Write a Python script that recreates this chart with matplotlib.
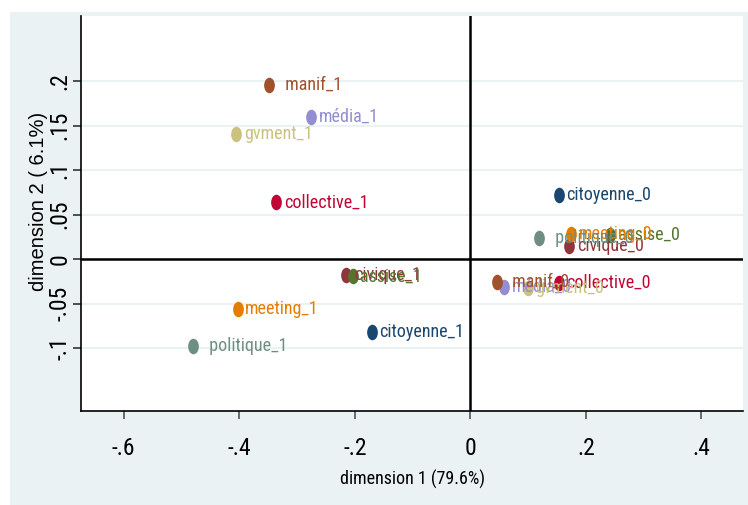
import numpy as np
import matplotlib.pyplot as plt
from matplotlib.path import Path
from matplotlib.patches import Rectangle

# coordinates from the correspondence analysis (dimension 1, dimension 2)
variables = ['citoyenne', 'civique', 'assise', 'meeting', 'politique',
             'collective', 'média', 'gvment', 'manif']
labels_0 = ['citoyenne_0', 'civique_0', 'assise_0', 'meeting_0', '  politique_0',
            'collective_0', 'média_0', 'gvment_0', '  manif_0']
labels_1 = ['citoyenne_1', 'civique_1', 'assise_1', 'meeting_1', '  politique_1',
            'collective_1', 'média_1', 'gvment_1', '  manif_1']
dim1_0 = [0.153, 0.171, 0.2416, 0.174, 0.119, 0.153, 0.058, 0.0996, 0.0459]
dim2_0 = [0.0726, 0.0145, 0.027, 0.028, 0.024, -0.0265, -0.031, -0.032, -0.0253]
dim1_1 = [-0.171, -0.2144, -0.2035, -0.403, -0.480, -0.3356, -0.276, -0.405, -0.348]
dim2_1 = [-0.0813, -0.0175, -0.0193, -0.0565, -0.097, 0.064, 0.160, 0.1413, 0.196]

xticks = [-0.6, -0.4, -0.2, 0, 0.2, 0.4]
xticklabels = ['-.6', '-.4', '-.2', '0', '.2', '.4']
yticks = [-0.1, -0.05, 0, 0.05, 0.1, 0.15, 0.2]
yticklabels = ['-.1', '-.05', '0', '.05', '.1', '.15', '.2']

# stata s2color palette
colors = ['#1A476F', '#90353B', '#55752F', '#E37E00', '#6E8E84',
          '#C10534', '#938DD2', '#CAC27E', '#A0522D']
bg = '#EAF2F3'
narrow = ['Roboto Condensed', 'Liberation Sans', 'DejaVu Sans']
regular = ['Liberation Sans', 'DejaVu Sans']

# slightly squashed circle, like the stretched stata export
circ = Path.unit_circle()
ellipse = Path(circ.vertices * [0.69, 1.0], circ.codes)

fig = plt.figure(figsize=(7.48, 5.05), dpi=100, facecolor='white')
fig.patches.append(Rectangle((10 / 748, 0), 1, 1 - 12 / 505, transform=fig.transFigure,
                             facecolor=bg, edgecolor='none', zorder=-10))
ax = fig.add_axes([81 / 748, 1 - 411 / 505, 662 / 748, 395 / 505])
ax.set_facecolor('white')

ax.set_xlim(-0.674, 0.472)
ax.set_ylim(-0.1706, 0.2734)

for yt in yticks:
    ax.axhline(yt, color=bg, lw=1.5, zorder=0)
ax.axhline(0, color='black', lw=1.8, zorder=1)
ax.axvline(0, color='black', lw=1.8, zorder=1)

for i, v in enumerate(variables):
    ax.plot([dim1_0[i], dim1_1[i]], [dim2_0[i], dim2_1[i]], linestyle='none',
            marker=ellipse, markersize=11.2, color=colors[i], mec='none', zorder=3)
    for xx, yy, lab in [(dim1_0[i], dim2_0[i], labels_0[i]), (dim1_1[i], dim2_1[i], labels_1[i])]:
        ax.annotate(lab, (xx, yy), xytext=(5.5, 0), textcoords='offset points',
                    ha='left', va='center', color=colors[i], fontsize=13,
                    family=narrow, zorder=4)

for s in ['top', 'right']:
    ax.spines[s].set_visible(False)
for s in ['left', 'bottom']:
    ax.spines[s].set_linewidth(1.2)
    ax.spines[s].set_color('black')

ax.set_xticks(xticks)
ax.set_xticklabels(xticklabels, family=narrow, fontsize=17)
ax.set_yticks(yticks)
ax.set_yticklabels(yticklabels, family=narrow, fontsize=17, rotation=90, va='center')
ax.tick_params(axis='x', length=6, width=1.2, color='#555555', pad=13)
ax.tick_params(axis='y', length=6, width=1.2, color='#333333', pad=1)

ax.set_xlabel('dimension 1 (79.6%)', family=narrow, fontsize=13, labelpad=7)
ax.set_ylabel('dimension 2 ( 6.1%)', family=regular, fontsize=14.5)
ax.yaxis.set_label_coords(-0.05, 0.53)

fig.savefig('out.png', dpi=100, facecolor='white')
